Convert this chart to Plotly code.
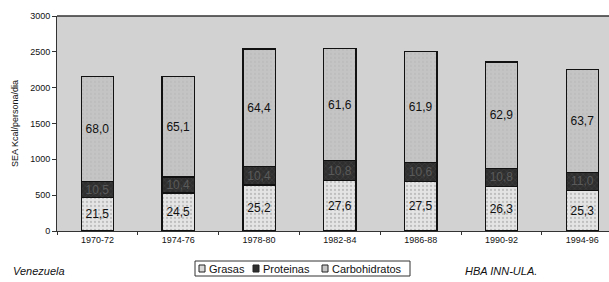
import plotly.graph_objects as go

periodos = ["1970-72", "1974-76", "1978-80", "1982-84", "1986-88", "1990-92", "1994-96"]
sea_total = [2160, 2160, 2540, 2550, 2500, 2360, 2250]
pct_grasas = [21.5, 24.5, 25.2, 27.6, 27.5, 26.3, 25.3]
pct_proteinas = [10.5, 10.4, 10.4, 10.8, 10.6, 10.8, 11.0]
pct_carbohidratos = [68.0, 65.1, 64.4, 61.6, 61.9, 62.9, 63.7]
y_ticks = [0, 500, 1000, 1500, 2000, 2500, 3000]

def kcal(pcts):
    return [t * p / 100 for t, p in zip(sea_total, pcts)]

def lab(pcts):
    return [f"{p:.1f}".replace(".", ",") for p in pcts]

FONT = "Liberation Sans, Arial, sans-serif"
L, R, T, B, W, H = 57, 0, 16, 51, 609, 282
PW, PH = W - L - R, H - T - B

def px(x):
    return (x - L) / PW

def py(y):
    return (H - B - y) / PH

fig = go.Figure()
series = [
    ("Grasas", pct_grasas, "#e4e4e4", ".", "#9a9a9a", "#111111"),
    ("Proteinas", pct_proteinas, "#2e2e2e", "x", "#555555", "#5a5a5a"),
    ("Carbohidratos", pct_carbohidratos, "#c4c4c4", ".", "#b6b6b6", "#111111"),
]
for name, pcts, col, shape, fg, tcol in series:
    fig.add_trace(go.Bar(
        name=name, x=periodos, y=kcal(pcts), text=lab(pcts),
        textposition="inside", insidetextanchor="middle", constraintext="none",
        textangle=0,
        textfont=dict(family=FONT, size=12, color=tcol),
        marker=dict(color=col, line=dict(color="#111111", width=1.3),
                    pattern=dict(shape=shape, fgcolor=fg, size=4, solidity=0.25)),
        width=0.4, hoverinfo="skip", showlegend=False,
    ))

# manual legend (box, swatches, labels)
shapes = [dict(type="line", xref="paper", yref="paper", x0=0, x1=1, y0=1, y1=1,
               line=dict(color="#333333", width=1.5)),
          dict(type="rect", xref="paper", yref="paper", x0=px(195), x1=px(410),
               y0=py(276), y1=py(261), line=dict(color="#333333", width=1),
               fillcolor="white")]
annotations = []
leg_items = [(199, 207, "Grasas", "#d8d8d8"), (253, 261, "Proteinas", "#2e2e2e"),
             (322, 330, "Carbohidratos", "#c6c6c6")]
for sx, tx, name, col in leg_items:
    shapes.append(dict(type="rect", xref="paper", yref="paper", x0=px(sx), x1=px(sx + 6),
                       y0=py(272), y1=py(265), line=dict(color="#222222", width=1),
                       fillcolor=col))
    annotations.append(dict(text=name, x=px(tx), y=py(268.5), xref="paper", yref="paper",
                            xanchor="left", yanchor="middle", showarrow=False,
                            font=dict(family=FONT, size=11, color="#111111")))
annotations += [
    dict(text="<i>Venezuela</i>", x=px(11), y=py(271), xref="paper", yref="paper",
         xanchor="left", yanchor="middle", showarrow=False,
         font=dict(family=FONT, size=11, color="#111111")),
    dict(text="<i>HBA INN-ULA.</i>", x=px(463), y=py(271), xref="paper", yref="paper",
         xanchor="left", yanchor="middle", showarrow=False,
         font=dict(family=FONT, size=11, color="#111111")),
]

fig.update_layout(
    width=W, height=H, barmode="stack",
    margin=dict(l=L, r=R, t=T, b=B, autoexpand=False),
    paper_bgcolor="white", plot_bgcolor="#d2d2d2",
    font=dict(family=FONT, size=9, color="#111111"),
    showlegend=False,
    xaxis=dict(type="category", range=[-0.5, 6.33], tickson="boundaries",
               ticks="outside", ticklen=3, tickcolor="#333333",
               showline=True, linecolor="#333333", linewidth=1, automargin=False,
               tickfont=dict(family=FONT, size=9), showgrid=False),
    yaxis=dict(range=[0, 3000], tickvals=y_ticks, ticks="outside", ticklen=4,
               tickcolor="#333333", showline=True, linecolor="#333333", linewidth=1,
               showgrid=False, zeroline=False, automargin=False,
               tickfont=dict(family=FONT, size=9),
               title=dict(text="SEA Kcal/persona/dia", font=dict(family=FONT, size=9),
                          standoff=10)),
    annotations=annotations,
    shapes=shapes,
)
fig.write_html("out.html", config={"displayModeBar": False},
               post_script="document.body.style.margin='0';document.body.style.overflow='hidden';")
